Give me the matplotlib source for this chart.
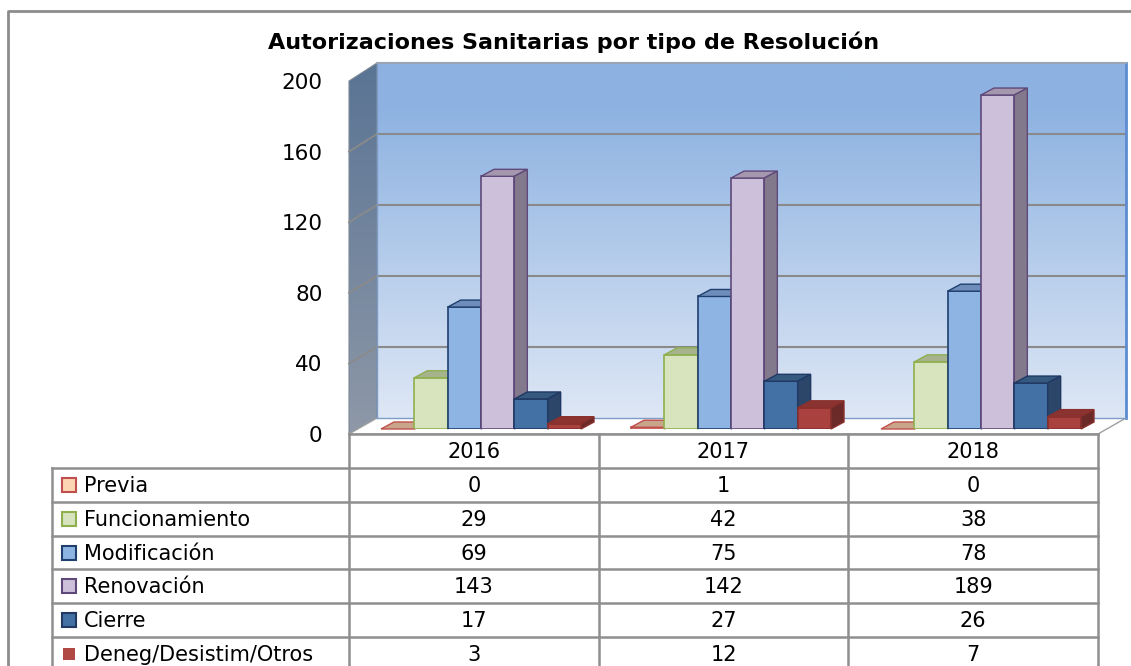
import numpy as np
import matplotlib
matplotlib.use("Agg")
import matplotlib.pyplot as plt
from matplotlib.patches import Polygon, Rectangle
from matplotlib.colors import to_rgb

# ---------------- data ----------------
title = "Autorizaciones Sanitarias por tipo de Resolución"
years = ["2016", "2017", "2018"]
series = ["Previa", "Funcionamiento", "Modificación", "Renovación", "Cierre", "Deneg/Desistim/Otros"]
previa = [0, 1, 0]
funcionamiento = [29, 42, 38]
modificacion = [69, 75, 78]
renovacion = [143, 142, 189]
cierre = [17, 27, 26]
deneg = [3, 12, 7]
values = [previa, funcionamiento, modificacion, renovacion, cierre, deneg]
yticks = [0, 40, 80, 120, 160, 200]

# ---------------- styles ----------------
front_c = ["#FCD5B5", "#D7E4BD", "#8DB4E2", "#CCC0DA", "#4471A5", "#A9423F"]
edge_c = ["#C0504D", "#8FB04F", "#1F3F6E", "#5F497A", "#1F3864", "#8A302D"]
top_c = ["#C9A58C", "#A7B38C", "#6F8DBA", "#A497AE", "#36597F", "#8A3331"]
side_c = ["#A88870", "#8A9570", "#5A77A0", "#827A8C", "#2B4669", "#6B2A28"]
grid_c = "#8A8A8A"
line_c = "#8F8F8F"
FONT = "DejaVu Sans"
FS = 15
FS_TICK = 15.5

W, H = 1131, 666
fig = plt.figure(figsize=(W / 100, H / 100), dpi=100)


def fr(x0, y0, x1, y1):
    return [x0 / W, 1 - y1 / H, (x1 - x0) / W, (y1 - y0) / H]


# background axes in pixel coordinates
ax_bg = fig.add_axes([0, 0, 1, 1], zorder=0)
ax_bg.axis("off")

# back wall
ax_back = fig.add_axes(fr(377, 63, 1126, 418), zorder=1)
ax_back.set_xlim(0, 1)
ax_back.set_ylim(0, 200)
top_rgb = np.array(to_rgb("#8DB2E1"))
bot_rgb = np.array(to_rgb("#DEE7F5"))
t = np.linspace(0, 1, 256)[:, None]
t = np.clip((t - 0.12) / 0.88, 0, 1)
grad = (top_rgb * (1 - t) + bot_rgb * t)[:, None, :]
ax_back.imshow(grad, extent=[0, 1, 0, 200], aspect="auto", origin="upper", zorder=0)
for v in yticks[1:-1]:
    ax_back.axhline(v, color=grid_c, lw=1.5, zorder=1)
ax_back.set_xticks([])
ax_back.set_yticks([])
for name, sp in ax_back.spines.items():
    sp.set_color("#7E9CC8")
    sp.set_linewidth(1.0)
ax_back.spines["top"].set_color("#9AA4B4")
ax_back.spines["top"].set_linewidth(1.5)
ax_back.spines["right"].set_color("#5B8CD0")
ax_back.spines["right"].set_linewidth(2)

# front plane (ticks)
ax_front = fig.add_axes(fr(349, 81, 1098, 434), zorder=2)
ax_front.set_xlim(-0.5, 2.5)
ax_front.set_ylim(0, 200)
ax_front.patch.set_alpha(0)
for sp in ax_front.spines.values():
    sp.set_visible(False)
ax_front.set_xticks([])
ax_front.set_yticks(yticks)
ax_front.set_yticklabels([str(v) for v in yticks], fontsize=FS_TICK, family=FONT)
ax_front.tick_params(axis="y", length=0, pad=19)

# bars axes
ax_bar = fig.add_axes(fr(356, 75.6, 1106, 429), zorder=3)
ax_bar.set_xlim(-0.5, 2.5)
ax_bar.set_ylim(0, 200)
ax_bar.axis("off")

ax_bg.set_xlim(0, W)
ax_bg.set_ylim(H, 0)

inv = ax_bg.transData.inverted()


def to_bg(ax, pts):
    return inv.transform(ax.transData.transform(pts))


# left wall gradient polygon
wall_pts = [(349, 81), (377, 63), (377, 418), (349, 434)]
wall = Polygon(wall_pts, closed=True, facecolor="none", edgecolor="#7C8796", lw=0.8, zorder=2)
ax_bg.add_patch(wall)
lt = np.array(to_rgb("#5A7494"))
lb = np.array(to_rgb("#8E98A8"))
tt = np.linspace(0, 1, 256)[:, None]
lgrad = (lt * (1 - tt) + lb * tt)[:, None, :]
im = ax_bg.imshow(lgrad, extent=[349, 377, 434, 63], aspect="auto", origin="upper", zorder=1)
im.set_clip_path(wall)
# gridlines on left wall
for v in yticks[1:-1]:
    pf = to_bg(ax_front, [(-0.5, v)])[0]
    pb = to_bg(ax_back, [(0, v)])[0]
    ax_bg.plot([pf[0], pb[0]], [pf[1], pb[1]], color=grid_c, lw=1.3, zorder=3)

# floor
floor = Polygon([(349, 434), (377, 418), (1126, 418), (1098, 434)], closed=True,
                facecolor="white", edgecolor="#A0A0A0", lw=1.0, zorder=2)
ax_bg.add_patch(floor)

ax_bg.set_xlim(0, W)
ax_bg.set_ylim(H, 0)

# bars with pseudo-3D faces
bw = 0.8 / 6
DX, DY = 13, 7  # depth in pixels (display: right, up)
x = np.arange(len(years))
for s, vals in enumerate(values):
    rects = ax_bar.bar(x + (s - 2.5) * bw, vals, width=bw, align="center",
                       color=front_c[s], edgecolor=edge_c[s], linewidth=1.2, zorder=2 + s)
    for r in rects:
        x0 = r.get_x()
        x1 = x0 + r.get_width()
        h = r.get_height()
        d = ax_bar.transData.transform([(x0, h), (x1, h), (x1, 0)])
        off = np.array([DX, DY])
        top = np.array([d[0], d[1], d[1] + off, d[0] + off])
        side = np.array([d[1], d[2], d[2] + off, d[1] + off])
        for pts, col in ((top, top_c[s]), (side, side_c[s])):
            poly = Polygon(inv.transform(pts), closed=True, facecolor=col,
                           edgecolor=edge_c[s], lw=1.0, transform=ax_bg.transData,
                           clip_on=False, zorder=2 + s)
            ax_bar.add_patch(poly)
ax_bar.set_xlim(-0.5, 2.5)
ax_bar.set_ylim(0, 200)

# ---------------- data table ----------------
col_edges = to_bg(ax_front, [(e, 0) for e in [-0.5, 0.5, 1.5, 2.5]])[:, 0]
row_top = 468
row_h = 33.8
hdr_top = 434
left = 52
lw_t = 1.8
for xe in col_edges:
    ax_bg.plot([xe, xe], [hdr_top, H + 5], color=line_c, lw=lw_t, zorder=4, clip_on=False)
ax_bg.plot([left, left], [row_top, H + 5], color=line_c, lw=lw_t, zorder=4)
ax_bg.plot([col_edges[0], col_edges[-1]], [hdr_top, hdr_top], color=line_c, lw=lw_t, zorder=4)
for k in range(len(series) + 1):
    yk = row_top + k * row_h
    ax_bg.plot([left, col_edges[-1]], [yk, yk], color=line_c, lw=lw_t, zorder=4)

centers = (col_edges[:-1] + col_edges[1:]) / 2
for j, yr in enumerate(years):
    ax_bg.text(centers[j], (hdr_top + row_top) / 2 + 1, yr, ha="center", va="center",
               fontsize=FS, family=FONT, zorder=5)
for k, name in enumerate(series):
    yc = row_top + (k + 0.5) * row_h
    if k == len(series) - 1:
        ax_bg.add_patch(Rectangle((63, yc - 6), 12, 12, facecolor="#B04844",
                                  edgecolor="none", zorder=5))
    else:
        ax_bg.add_patch(Rectangle((62, yc - 7), 14, 14, facecolor=front_c[k],
                                  edgecolor=edge_c[k], lw=1.5, zorder=5))
    ax_bg.text(84, yc + 1, name, ha="left", va="center", fontsize=FS, family=FONT, zorder=5)
    for j in range(len(years)):
        ax_bg.text(centers[j], yc + 1, str(values[k][j]), ha="center", va="center",
                   fontsize=FS, family=FONT, zorder=5)

# outer frame
ax_bg.plot([8, 8, W + 5], [H + 5, 11, 11], color="#8C8C8C", lw=2, zorder=6, clip_on=False)

# title
ax_bg.text(574, 42, title, ha="center", va="center", fontsize=16, fontweight="bold",
           family=FONT, zorder=6)

ax_bg.set_xlim(0, W)
ax_bg.set_ylim(H, 0)

fig.savefig("out.png", dpi=100)
